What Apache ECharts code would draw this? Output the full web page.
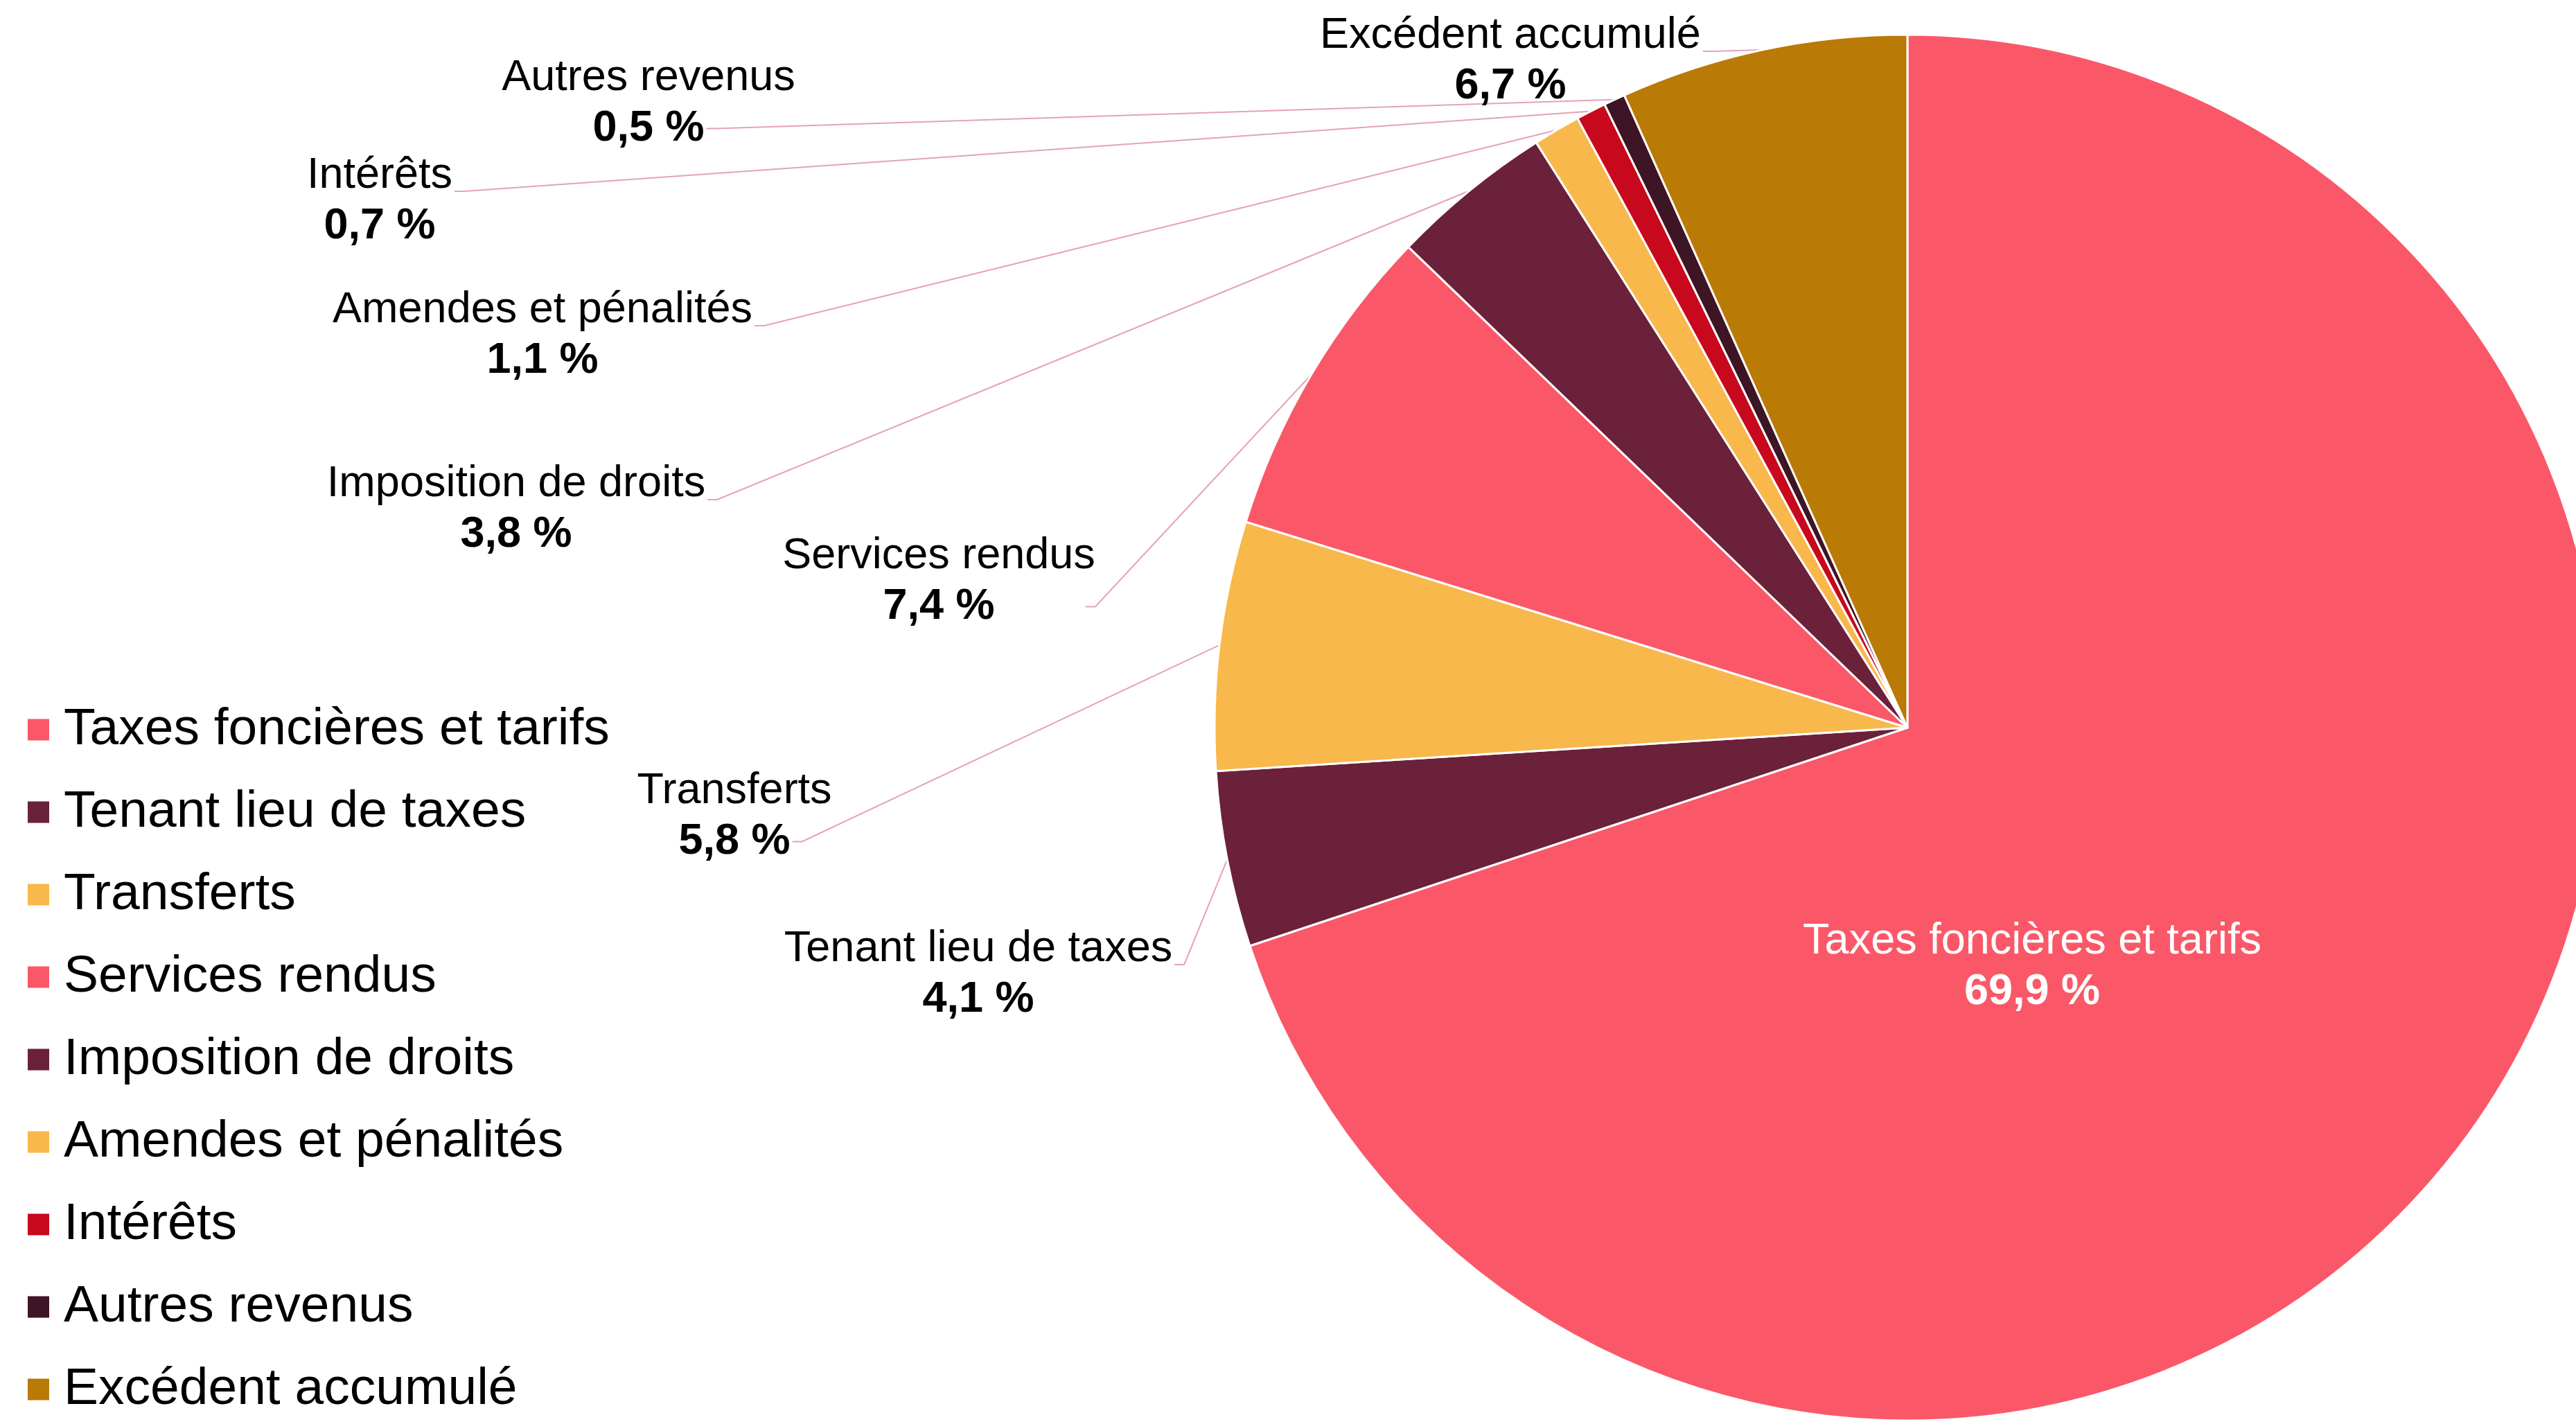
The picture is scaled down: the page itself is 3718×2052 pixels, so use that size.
<!DOCTYPE html>
<html>
<head>
<meta charset="utf-8">
<title>Sources de revenus</title>
<script src="https://cdn.jsdelivr.net/npm/echarts@6/dist/echarts.min.js"></script>
<style>
    html, body { margin: 0; padding: 0; background: #fff; }
    #main { width: 3718px; height: 2052px; }
</style>
</head>
<body>
<div id="main"></div>
<script>
// données
var categories = ['Taxes foncières et tarifs', 'Tenant lieu de taxes', 'Transferts', 'Services rendus',
    'Imposition de droits', 'Amendes et pénalités', 'Intérêts', 'Autres revenus', 'Excédent accumulé'];
var shares = [69.9, 4.1, 5.8, 7.4, 3.8, 1.1, 0.7, 0.5, 6.7];

// couleurs des parts
var colors = ['#FA5868', '#6A2139', '#F8B84B', '#FA5868', '#6A2139', '#F8B84B', '#C8081C', '#3E1525', '#B97A06'];
// centre de chaque étiquette (px)
var labelPos = [[2933, 1395], [1412, 1406], [1060, 1178], [1355, 839], [745, 735],
    [783, 484], [548, 290], [936, 149], [2180, 88]];
// où la ligne de rappel rejoint l'étiquette : n = nom, v = valeur, r = bord droit / valeur
var attach = ['', 'n', 'v', 'r', 'n', 'n', 'n', 'v', 'n'];

var font = 'Liberation Sans, Arial, sans-serif';
var fs = 63, lh = 73;

function pct(v) {
    return v.toFixed(1).replace('.', ',') + ' %';
}

// largeur du texte
var ctx = document.createElement('canvas').getContext('2d');
function textW(t, bold) {
    ctx.font = (bold ? 'bold ' : '') + fs + 'px ' + font;
    return ctx.measureText(t).width;
}

var myChart = echarts.init(document.getElementById('main'));

var option = {
    animation: false,
    color: colors,
    legend: {
        orient: 'vertical',
        left: 38,
        top: 1013,
        padding: 0,
        icon: 'rect',
        itemWidth: 33,
        itemHeight: 33,
        itemGap: 39,
        selectedMode: false,
        textStyle: {
            fontFamily: font,
            fontSize: 75,
            lineHeight: 80,
            color: '#000',
            padding: [0, 0, 0, 15]
        },
        data: categories
    },
    series: [{
        type: 'pie',
        center: [2753, 1050],
        radius: 1000,
        startAngle: 90,
        clockwise: true,
        avoidLabelOverlap: false,
        emphasis: { disabled: true },
        itemStyle: { borderColor: '#fff', borderWidth: 3 },
        label: {
            show: true,
            position: 'outside',
            fontFamily: font,
            formatter: function (p) {
                var s = p.dataIndex === 0 ? 'w' : '';
                return '{n' + s + '|' + p.name + '}\n{v' + s + '|' + pct(p.value) + '}';
            },
            rich: {
                n: { fontFamily: font, fontSize: fs, lineHeight: lh, color: '#000', align: 'center' },
                v: { fontFamily: font, fontSize: fs, lineHeight: lh, color: '#000', fontWeight: 'bold', align: 'center' },
                nw: { fontFamily: font, fontSize: fs, lineHeight: lh, color: '#fff', align: 'center' },
                vw: { fontFamily: font, fontSize: fs, lineHeight: lh, color: '#fff', fontWeight: 'bold', align: 'center' }
            }
        },
        labelLine: {
            show: true,
            length: 20,
            length2: 12,
            lineStyle: { color: '#E4A3B8', width: 2 }
        },
        labelLayout: function (params) {
            var i = params.dataIndex;
            var x = labelPos[i][0], y = labelPos[i][1];
            var res = { x: x, y: y, align: 'center', verticalAlign: 'middle' };
            var pts = params.labelLinePoints;
            if (i > 0 && pts) {
                var ax, ay;
                if (attach[i] === 'n') {
                    ax = x + textW(categories[i], false) / 2 + 3;
                    ay = y - 14;
                } else if (attach[i] === 'v') {
                    ax = x + textW(pct(shares[i]), true) / 2 + 3;
                    ay = y + lh / 2;
                } else {
                    ax = x + params.labelRect.width / 2 - 14;
                    ay = y + lh / 2;
                }
                res.labelLinePoints = [pts[0], [ax + 14, ay], [ax, ay]];
            }
            return res;
        },
        data: categories.map(function (name, i) {
            var d = { name: name, value: shares[i] };
            if (i === 0) d.labelLine = { show: false };
            return d;
        })
    }]
};

myChart.setOption(option);
window.addEventListener('resize', function () {
    myChart.resize();
});
</script>
</body>
</html>
